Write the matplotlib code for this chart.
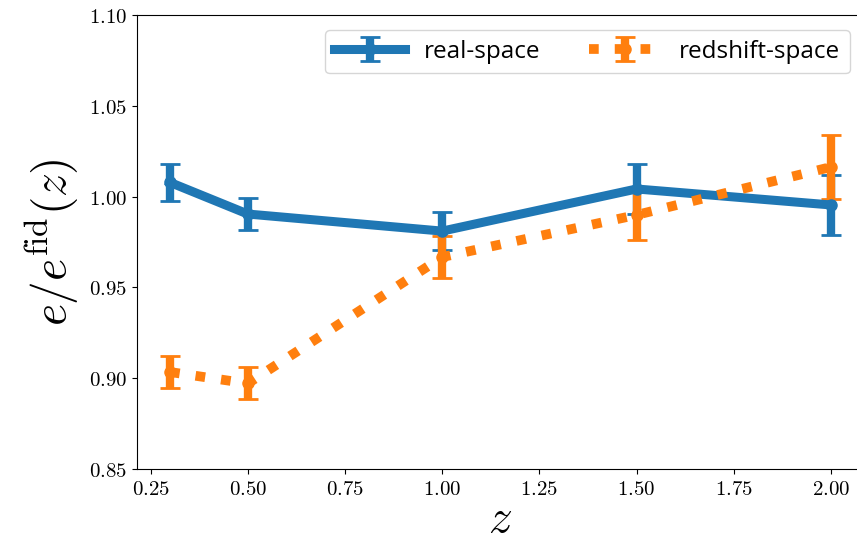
import numpy as np
import matplotlib
matplotlib.use('Agg')
import matplotlib.pyplot as plt

plt.rcParams['mathtext.fontset'] = 'cm'

z = [0.3, 0.5, 1.0, 1.5, 2.0]
real = [1.0078, 0.9904, 0.9810, 1.0042, 0.9954]
real_err = [0.0104, 0.0088, 0.0105, 0.0138, 0.0165]
red = [0.9034, 0.8971, 0.9667, 0.9899, 1.0163]
red_err = [0.0087, 0.0088, 0.0116, 0.0138, 0.0176]

xticks = [0.25, 0.50, 0.75, 1.00, 1.25, 1.50, 1.75, 2.00]
yticks = [0.85, 0.90, 0.95, 1.00, 1.05, 1.10]

fig = plt.figure(figsize=(8.57, 5.45), dpi=100)
ax = fig.add_axes([137/857, 76/545, 727/857, 454/545])

ax.errorbar(z, real, yerr=real_err, color='#1f77b4', lw=6.5, marker='o', ms=8,
            elinewidth=6, capsize=7, capthick=2, label='real-space')
ax.errorbar(z, red, yerr=red_err, color='#ff7f0e', lw=7, ls=':', marker='o', ms=8,
            elinewidth=6, capsize=7, capthick=2, label='redshift-space')

ax.set_xlim(0.215, 2.085)
ax.set_ylim(0.85, 1.10)
ax.set_xticks(xticks)
ax.set_xticklabels(['$%.2f$' % v for v in xticks])
ax.set_yticks(yticks)
ax.set_yticklabels(['$%.2f$' % v for v in yticks])
ax.tick_params(labelsize=15)

ax.set_xlabel('$z$', fontsize=34, labelpad=-1)
ax.set_ylabel(r'$e/e^{\rm fid}(z)$', fontsize=34, labelpad=6)

ax.legend(loc='upper right', ncol=2, prop={'family': 'Open Sans', 'size': 17.5},
          handlelength=2.9, borderaxespad=0, bbox_to_anchor=(0.981, 0.967))

fig.savefig('out.png', dpi=100)
